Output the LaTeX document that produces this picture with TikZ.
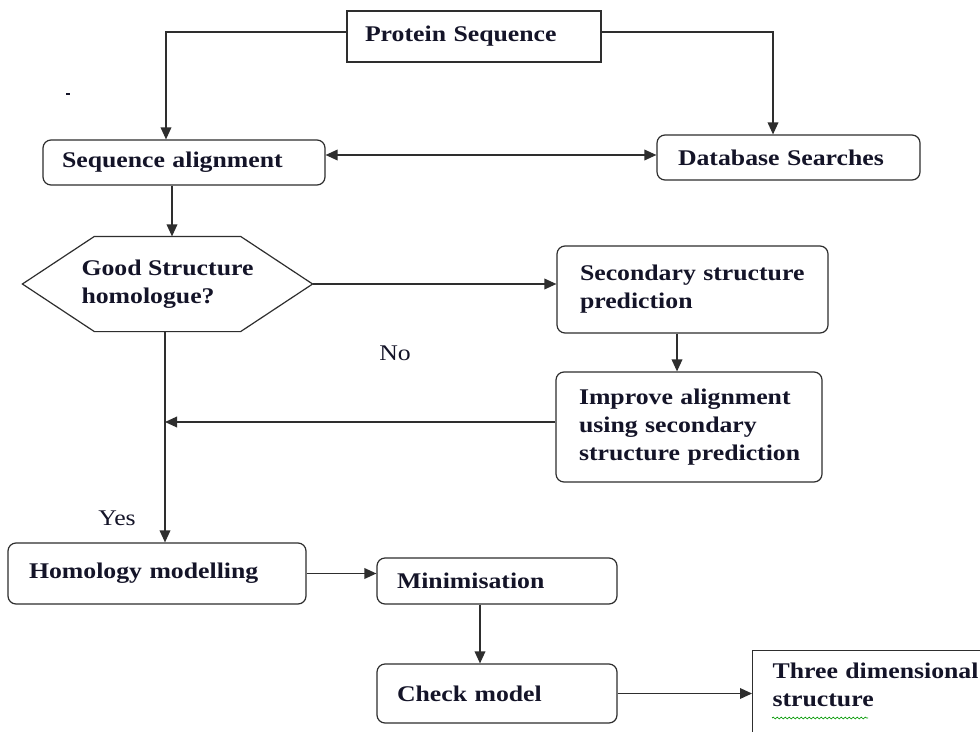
\documentclass[tikz,border=0pt]{standalone}
\usepackage{fontspec}
\setmainfont[FakeStretch=1.15]{Liberation Serif}
\usetikzlibrary{arrows.meta,calc,decorations.pathmorphing}
\definecolor{linec}{HTML}{2E2E2E}
\definecolor{txtc}{HTML}{141428}
\begin{document}
\begin{tikzpicture}[x=0.75pt,y=-0.75pt,
  box/.style={draw=linec, line width=0.9pt, rounded corners=6pt, align=left, text=txtc,
    font=\fontsize{16.8pt}{21pt}\selectfont\bfseries, inner ysep=0pt},
  sbox/.style={box, rounded corners=0pt},
  arr/.style={draw=linec, line width=1pt, -{Triangle[length=9pt,width=8pt]}},
  lbl/.style={text=txtc, font=\fontsize{16.8pt}{21pt}\selectfont}]
\useasboundingbox (0,0) rectangle (980,731);
\clip (0,0) rectangle (980,731);
\fill[white] (0,0) rectangle (980,731);

% helper coordinates
\coordinate (xL) at (166,0);
\coordinate (xR) at (773,0);
\coordinate (yP) at (0,32);
\coordinate (yD) at (0,155);
\coordinate (xM) at (172,0);
\coordinate (xV) at (165,0);
\coordinate (yI) at (0,422);
\coordinate (xS) at (677,0);
\coordinate (xC) at (480,0);

% boxes
\node[sbox, minimum width=190.5pt, minimum height=38.25pt, inner xsep=13.5pt, text width=163.5pt] (prot) at (474,36.5) {\mbox{Protein Sequence}};
\node[box, minimum width=211.5pt, minimum height=33.75pt, inner xsep=14.25pt, text width=183pt] (seq) at (184,162.5) {\mbox{Sequence alignment}};
\node[box, minimum width=197.25pt, minimum height=33.75pt, inner xsep=15.75pt, text width=165.75pt] (db) at (788.5,157.5) {\mbox{Database Searches}};

\node[box, draw=none, minimum width=216.75pt, minimum height=70.5pt, inner xsep=0pt] (hex) at (167.5,284) {Good Structure\\homologue?};
\draw[line width=0.9pt, draw=linec] (hex.west) -- ($(hex.north west)+(72,0)$) -- ($(hex.north east)+(-72,0)$) -- (hex.east) -- ($(hex.south east)+(-72,0)$) -- ($(hex.south west)+(72,0)$) -- cycle;

\node[box, minimum width=203.25pt, minimum height=65.25pt, inner xsep=17.25pt, text width=168.75pt] (sec) at (692.5,289.5) {\mbox{Secondary structure}\\\mbox{prediction}};
\node[box, minimum width=199.5pt, minimum height=82.5pt, inner xsep=17.25pt, text width=165pt] (imp) at (689,427) {\mbox{Improve alignment}\\\mbox{using secondary}\\\mbox{structure prediction}};
\node[box, minimum width=223.5pt, minimum height=45.75pt, inner xsep=15.75pt, text width=192pt] (hom) at (157,573.5) {\mbox{Homology modelling}};
\node[box, minimum width=180pt, minimum height=34.5pt, inner xsep=15pt, text width=150pt] (min) at (497,581) {\mbox{Minimisation}};
\node[box, minimum width=180pt, minimum height=44.25pt, inner xsep=15pt, text width=150pt] (chk) at (497,693.5) {\mbox{Check model}};
\node[sbox, anchor=north west, inner xsep=15pt, inner ysep=9pt, text width=187.5pt, text depth=70pt] (three) at (752,650) {\mbox{Three dimensional}\\\mbox{structure}};
\draw[green!60!black, line width=0.5pt, decorate, decoration={snake, amplitude=0.7pt, segment length=3pt}] (772,718) -- (868,718);

% labels
\node[lbl] (no) at (395,353) {No};
\node[lbl] (yes) at (117,518) {Yes};
\fill[txtc] (66,93) rectangle (70,95.5);

% connectors
\draw[arr] (prot.west |- yP) -| (seq.north -| xL);
\draw[arr] (prot.east |- yP) -| (db.north -| xR);
\draw[arr, {Triangle[length=9pt,width=8pt]}-{Triangle[length=9pt,width=8pt]}] (seq.east |- yD) -- (db.west |- yD);
\draw[arr] (seq.south -| xM) -- (hex.north -| xM);
\draw[arr] (hex.east) -- (sec.west |- hex.east);
\draw[arr] (sec.south -| xS) -- (imp.north -| xS);
\draw[arr] (imp.west |- yI) -- (xV |- yI);
\draw[arr] (hex.south -| xV) -- (hom.north -| xV);
\draw[arr] (hom.east) -- (min.west |- hom.east);
\draw[arr] (min.south -| xC) -- (chk.north -| xC);
\draw[arr] (chk.east) -- (chk.east -| three.west);
\end{tikzpicture}
\end{document}
